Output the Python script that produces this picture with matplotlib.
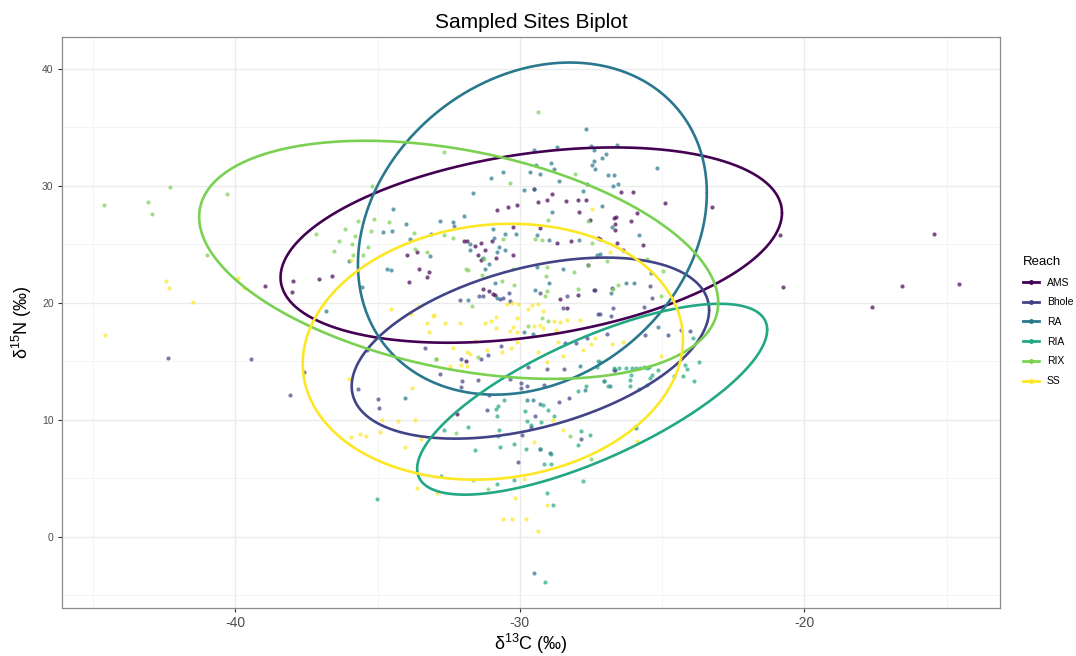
import numpy as np
import matplotlib
matplotlib.use('Agg')
import matplotlib.pyplot as plt
from matplotlib.lines import Line2D

plt.rcParams['font.family'] = ['Liberation Sans', 'DejaVu Sans']
plt.rcParams['mathtext.fontset'] = 'custom'
plt.rcParams['mathtext.rm'] = 'Liberation Sans'
plt.rcParams['mathtext.it'] = 'Liberation Sans:italic'
plt.rcParams['axes.unicode_minus'] = False

reaches = ['AMS', 'Bhole', 'RA', 'RIA', 'RIX', 'SS']
colors = ['#440154', '#414487', '#2A788E', '#22A884', '#7AD151', '#FDE725']

# d13C / d15N per reach
ams = [(-17.63, 19.6), (-16.58, 21.43), (-14.58, 21.6), (-15.46, 25.92), (-23.25, 28.18),
       (-20.85, 25.81), (-20.74, 21.31), (-24.89, 28.52), (-38.94, 21.45), (-37.96, 21.88),
       (-38.0, 20.94), (-37.05, 22.03), (-36.61, 22.31), (-33.89, 21.8), (-33.97, 24.1),
       (-33.6, 24.3), (-33.53, 22.88), (-33.25, 22.2), (-33.21, 22.67), (-30.81, 27.95),
       (-30.43, 28.18), (-30.09, 28.38), (-29.49, 29.72), (-29.38, 28.63), (-29.03, 28.8),
       (-28.88, 29.32), (-28.38, 28.66), (-27.94, 28.75), (-27.92, 27.72), (-27.55, 27.09),
       (-26.71, 27.24), (-26.65, 26.75), (-31.96, 25.32), (-31.87, 25.32), (-31.57, 24.87),
       (-31.37, 25.15), (-30.99, 25.24), (-31.22, 24.47), (-31.46, 24.1), (-31.37, 23.62),
       (-30.84, 23.82), (-30.23, 26.47), (-30.23, 24.1), (-29.31, 26.38), (-28.7, 25.1),
       (-28.21, 25.24), (-27.24, 25.53), (-31.07, 20.97), (-30.95, 20.77), (-30.87, 20.68),
       (-31.28, 21.17), (-28.59, 20.32), (-28.35, 19.51), (-27.61, 23.19), (-27.67, 28.75),
       (-26.45, 29.43), (-26.03, 29.43), (-25.89, 27.67), (-26.09, 27.0), (-26.62, 27.29),
       (-26.65, 26.24), (-26.59, 25.1), (-25.68, 24.96), (-27.2, 25.47), (-26.39, 24.47),
       (-27.38, 21.11), (-27.97, 20.68), (-31.9, 15.04), (-32.22, 10.49)]

bhole = [(-42.35, 15.3), (-39.46, 15.15), (-37.57, 14.1), (-38.08, 12.08), (-35.7, 12.62),
         (-34.99, 11.77), (-34.94, 11.0), (-35.36, 15.92), (-33.33, 16.13), (-32.8, 13.93),
         (-32.08, 15.19), (-32.02, 13.27), (-32.08, 12.79), (-31.46, 13.42), (-31.36, 15.19),
         (-31.13, 15.5), (-30.66, 16.27), (-30.34, 13.48), (-29.97, 13.14), (-29.97, 12.71),
         (-29.76, 12.91), (-29.15, 12.99), (-29.72, 14.47), (-29.06, 14.33), (-28.44, 14.33),
         (-28.27, 11.85), (-28.61, 11.48), (-29.46, 10.34), (-29.93, 8.72), (-29.31, 7.5),
         (-28.94, 7.15), (-30.05, 6.35), (-27.85, 8.35), (-31.14, 10.85), (-31.07, 12.14),
         (-29.62, 9.38), (-32.1, 20.26), (-31.43, 20.6), (-31.3, 20.6), (-30.69, 20.34),
         (-30.61, 20.4), (-30.34, 20.12), (-30.37, 20.83), (-29.31, 20.83), (-28.35, 20.55),
         (-28.5, 19.55), (-27.26, 19.03), (-26.94, 17.35), (-28.41, 16.6), (-26.65, 14.21),
         (-27.36, 21.11), (-26.79, 18.89), (-26.73, 19.55), (-25.65, 19.6), (-25.36, 20.41),
         (-25.42, 21.4), (-25.62, 17.2), (-24.81, 17.2), (-24.02, 17.55), (-24.35, 17.63),
         (-26.71, 14.27), (-28.02, 16.55), (-27.65, 16.98), (-26.77, 21.26), (-27.2, 19.06)]

ra = [(-27.67, 34.85), (-28.7, 33.31), (-29.49, 33.02), (-27.41, 33.02), (-27.41, 32.08),
      (-27.45, 31.8), (-27.36, 31.43), (-28.91, 31.99), (-29.44, 31.8), (-28.8, 31.43),
      (-29.66, 31.22), (-29.31, 31.0), (-28.64, 30.45), (-30.58, 31.14), (-31.02, 30.66),
      (-29.85, 29.66), (-29.52, 29.72), (-31.63, 29.38), (-27.79, 29.57), (-27.51, 33.42),
      (-26.59, 33.5), (-26.97, 32.71), (-27.12, 32.37), (-26.89, 30.91), (-26.71, 30.91),
      (-25.19, 31.51), (-26.73, 30.0), (-26.56, 30.14), (-27.63, 30.14), (-27.12, 28.23),
      (-28.88, 27.72), (-25.8, 25.81), (-26.77, 26.44), (-27.91, 25.33), (-28.49, 22.88),
      (-27.3, 24.1), (-26.27, 21.73), (-25.99, 21.68), (-25.4, 22.53), (-26.8, 20.83),
      (-25.16, 17.92), (-34.68, 22.88), (-34.54, 22.76), (-34.82, 26.04), (-34.5, 26.1),
      (-34.0, 26.75), (-34.47, 28.0), (-36.0, 23.53), (-32.8, 26.96), (-33.13, 25.9),
      (-32.36, 26.87), (-32.31, 26.58), (-31.98, 27.44), (-30.95, 26.32), (-30.91, 25.53),
      (-33.86, 25.44), (-36.81, 19.31), (-35.56, 21.34), (-30.52, 25.9), (-30.13, 25.9),
      (-31.75, 25.04), (-31.77, 24.53), (-30.81, 24.3), (-30.72, 24.76), (-30.52, 24.53),
      (-31.28, 23.82), (-31.07, 23.33), (-31.22, 22.88), (-33.15, 23.96), (-29.4, 25.81),
      (-28.96, 25.33), (-29.4, 23.05), (-28.96, 21.68), (-29.46, 21.05), (-31.81, 20.2),
      (-30.81, 20.4), (-30.87, 21.68), (-27.18, 24.19), (-34.03, 11.85), (-29.85, 17.46),
      (-29.54, 17.35), (-29.76, 11.65), (-29.54, 11.65), (-29.29, 11.37), (-27.71, 12.5),
      (-27.2, 14.9), (-27.88, 14.56), (-27.04, 13.27), (-26.85, 12.85), (-29.49, -3.08)]

ria = [(-26.71, 14.42), (-26.5, 14.38), (-26.27, 14.45), (-26.07, 14.4), (-25.92, 14.45),
       (-25.78, 14.42), (-25.63, 14.47), (-25.52, 14.4), (-25.46, 14.5), (-27.24, 14.98),
       (-27.3, 14.5), (-25.36, 13.85), (-25.42, 13.56), (-25.16, 14.21), (-26.1, 13.85),
       (-26.12, 13.36), (-26.12, 12.85), (-25.8, 12.65), (-25.54, 12.99), (-27.06, 13.33),
       (-26.89, 12.85), (-27.67, 12.91), (-27.94, 12.48), (-24.28, 13.76), (-24.14, 14.33),
       (-24.2, 14.7), (-23.69, 14.9), (-23.88, 13.27), (-23.9, 16.98), (-24.58, 13.7),
       (-28.8, 10.34), (-27.86, 9.0), (-27.53, 8.72), (-27.97, 7.86), (-25.92, 9.29),
       (-27.77, 4.79), (-28.84, 2.74), (-30.84, 10.92), (-30.79, 10.29), (-30.75, 9.15),
       (-30.77, 8.57), (-30.69, 7.63), (-30.2, 7.95), (-29.78, 7.5), (-29.29, 7.5),
       (-29.15, 6.21), (-28.91, 6.21), (-28.91, 7.09), (-32.66, 9.15), (-31.84, 9.38),
       (-31.57, 7.38), (-32.78, 5.21), (-30.79, 4.5), (-30.2, 4.81), (-29.03, 3.74),
       (-29.62, 9.57), (-29.27, 9.8), (-29.11, -3.87), (-35.03, 3.22), (-29.82, 10.71),
       (-29.19, 11.22), (-29.0, 10.85), (-30.55, 11.71), (-30.77, 11.14), (-29.74, 9.86),
       (-25.95, 9.34)]

rix = [(-44.61, 28.32), (-43.06, 28.61), (-42.94, 27.55), (-42.3, 29.86), (-40.3, 29.29),
       (-41.0, 24.1), (-37.16, 25.9), (-36.14, 26.32), (-35.7, 27.03), (-36.35, 25.24),
       (-35.89, 25.01), (-35.79, 25.67), (-36.53, 24.44), (-35.87, 24.1), (-29.38, 36.35),
       (-32.65, 32.93), (-35.2, 30.0), (-35.5, 24.1), (-35.35, 24.73), (-35.23, 26.1),
       (-35.12, 27.18), (-34.6, 26.9), (-33.72, 25.95), (-33.68, 24.59), (-33.27, 24.3),
       (-32.66, 25.81), (-32.34, 25.53), (-31.89, 22.88), (-31.81, 22.76), (-31.26, 23.73),
       (-31.34, 22.39), (-30.6, 25.44), (-30.34, 30.28), (-30.64, 21.82), (-30.23, 22.88),
       (-29.46, 25.44), (-29.23, 25.38), (-29.0, 27.09), (-29.03, 23.05), (-29.08, 22.25),
       (-29.05, 20.97), (-29.11, 20.54), (-28.11, 22.59), (-28.06, 31.03), (-27.62, 27.03),
       (-27.94, 21.17), (-27.47, 25.1), (-26.94, 23.53), (-25.52, 23.73), (-24.98, 22.74),
       (-26.54, 21.54), (-26.73, 21.17), (-27.62, 23.25), (-25.05, 20.54), (-28.24, 8.63),
       (-32.96, 15.21), (-32.24, 8.86), (-31.66, 4.87), (-31.13, 4.07), (-29.0, 18.46),
       (-29.21, 18.69), (-30.2, 21.48), (-31.69, 19.74), (-31.48, 15.33), (-27.5, 6.64),
       (-29.72, 17.97), (-32.94, 15.19)]

ss = [(-42.45, 21.82), (-42.32, 21.22), (-41.47, 20.03), (-44.57, 17.2), (-39.91, 22.11),
      (-39.7, 21.26), (-35.93, 23.68), (-35.99, 13.5), (-35.93, 8.52), (-33.8, 12.71),
      (-35.62, 8.8), (-35.4, 8.57), (-34.91, 8.91), (-34.83, 10.0), (-34.3, 9.86),
      (-33.68, 10.0), (-34.03, 7.67), (-33.47, 8.35), (-33.6, 4.16), (-32.92, 3.74),
      (-30.61, 1.54), (-30.28, 1.54), (-29.78, 1.54), (-29.38, 0.45), (-30.17, 3.31),
      (-29.84, 4.93), (-29.05, 2.74), (-29.52, 8.06), (-28.47, 9.15), (-28.82, 10.0),
      (-34.54, 19.46), (-33.27, 18.26), (-33.18, 17.46), (-32.63, 18.26), (-33.83, 19.06),
      (-33.04, 18.89), (-32.1, 18.26), (-32.36, 16.13), (-32.45, 14.61), (-32.07, 14.7),
      (-31.87, 14.61), (-31.87, 15.75), (-31.77, 15.64), (-31.57, 16.69), (-31.22, 18.26),
      (-31.02, 18.4), (-30.84, 17.83), (-30.46, 19.91), (-30.26, 19.97), (-30.05, 19.91),
      (-29.7, 19.46), (-29.58, 19.83), (-30.23, 17.89), (-30.34, 17.61), (-30.11, 17.49),
      (-30.09, 16.61), (-30.32, 16.13), (-30.64, 15.75), (-31.16, 15.98), (-29.52, 17.97),
      (-29.31, 18.06), (-29.19, 17.83), (-29.37, 15.75), (-29.03, 14.9), (-28.47, 15.47),
      (-28.67, 16.64), (-28.79, 18.4), (-28.35, 18.55), (-27.77, 15.98), (-27.36, 16.98),
      (-27.51, 16.5), (-27.45, 28.0), (-26.85, 24.38), (-33.53, 19.7), (-33.01, 18.92),
      (-30.09, 18.69), (-29.38, 19.91), (-29.17, 19.26), (-27.88, 18.55), (-26.75, 16.5),
      (-26.38, 16.67), (-25.05, 15.47), (-25.89, 8.15), (-28.59, 18.32), (-28.74, 17.69),
      (-30.84, 18.78)]

# 95% ellipse per reach: centre, half-extent in x and y, correlation term
ell_cx = [-29.6, -29.63, -29.56, -27.46, -32.15, -30.95]
ell_cy = [24.93, 16.12, 26.34, 11.75, 23.67, 15.81]
ell_rx = [8.81, 6.28, 6.13, 6.15, 9.12, 6.68]
ell_ry = [8.35, 7.74, 14.2, 8.16, 10.18, 10.94]
ell_rho = [0.33, 0.42, 0.215, 0.728, -0.36, 0.094]

groups = [ams, bhole, ra, ria, rix, ss]

fig = plt.figure(figsize=(10.76, 6.56), dpi=100)
ax = fig.add_axes([0.0576, 0.0732, 0.872, 0.870])

for pts, col in zip(groups, colors):
    arr = np.array(pts)
    ax.scatter(arr[:, 0], arr[:, 1], s=9, color=col, alpha=0.7, linewidths=0, zorder=3)

t = np.linspace(0, 2 * np.pi, 300)
for i, col in enumerate(colors):
    phi = np.arccos(ell_rho[i])
    ex = ell_cx[i] + ell_rx[i] * np.cos(t)
    ey = ell_cy[i] + ell_ry[i] * np.cos(t - phi)
    ax.plot(ex, ey, color=col, lw=1.9, zorder=4, solid_capstyle='round')

ax.set_xlim(-46.09, -13.12)
ax.set_ylim(-6.1, 42.7)
ax.set_xticks([-40, -30, -20])
ax.set_xticks([-45, -35, -25, -15], minor=True)
ax.set_yticks([0, 10, 20, 30, 40])
ax.set_yticks([-5, 5, 15, 25, 35], minor=True)
ax.grid(True, which='major', color='#ebebeb', lw=1.0, zorder=0)
ax.grid(True, which='minor', color='#f2f2f2', lw=0.6, zorder=0)
ax.set_axisbelow(True)
ax.tick_params(which='minor', length=0)
ax.tick_params(axis='x', which='major', length=3, color='#333333', labelsize=10, labelcolor='#4d4d4d', pad=3)
ax.tick_params(axis='y', which='major', length=3, color='#333333', labelsize=7.5, labelcolor='#4d4d4d', pad=3)
for sp in ax.spines.values():
    sp.set_color('#8c8c8c')
    sp.set_linewidth(0.9)

ax.set_xlabel(r'$\mathregular{\delta^{13}}$C (‰)', fontsize=13, labelpad=1)
ax.set_ylabel(r'$\mathregular{\delta^{15}}$N (‰)', fontsize=13, labelpad=6)
ax.set_title('Sampled Sites Biplot', fontsize=15, pad=7)

handles = [Line2D([0], [0], color=c, lw=2, marker='o', markersize=2.5) for c in colors]
leg = fig.legend(handles, reaches, loc='upper left', bbox_to_anchor=(0.942, 0.624),
                 frameon=False, title='Reach', fontsize=7.5, title_fontsize=9.5,
                 handlelength=1.5, handletextpad=0.8, labelspacing=0.93)
leg._legend_box.align = 'left'

fig.savefig('out.png', dpi=100, facecolor='white')
